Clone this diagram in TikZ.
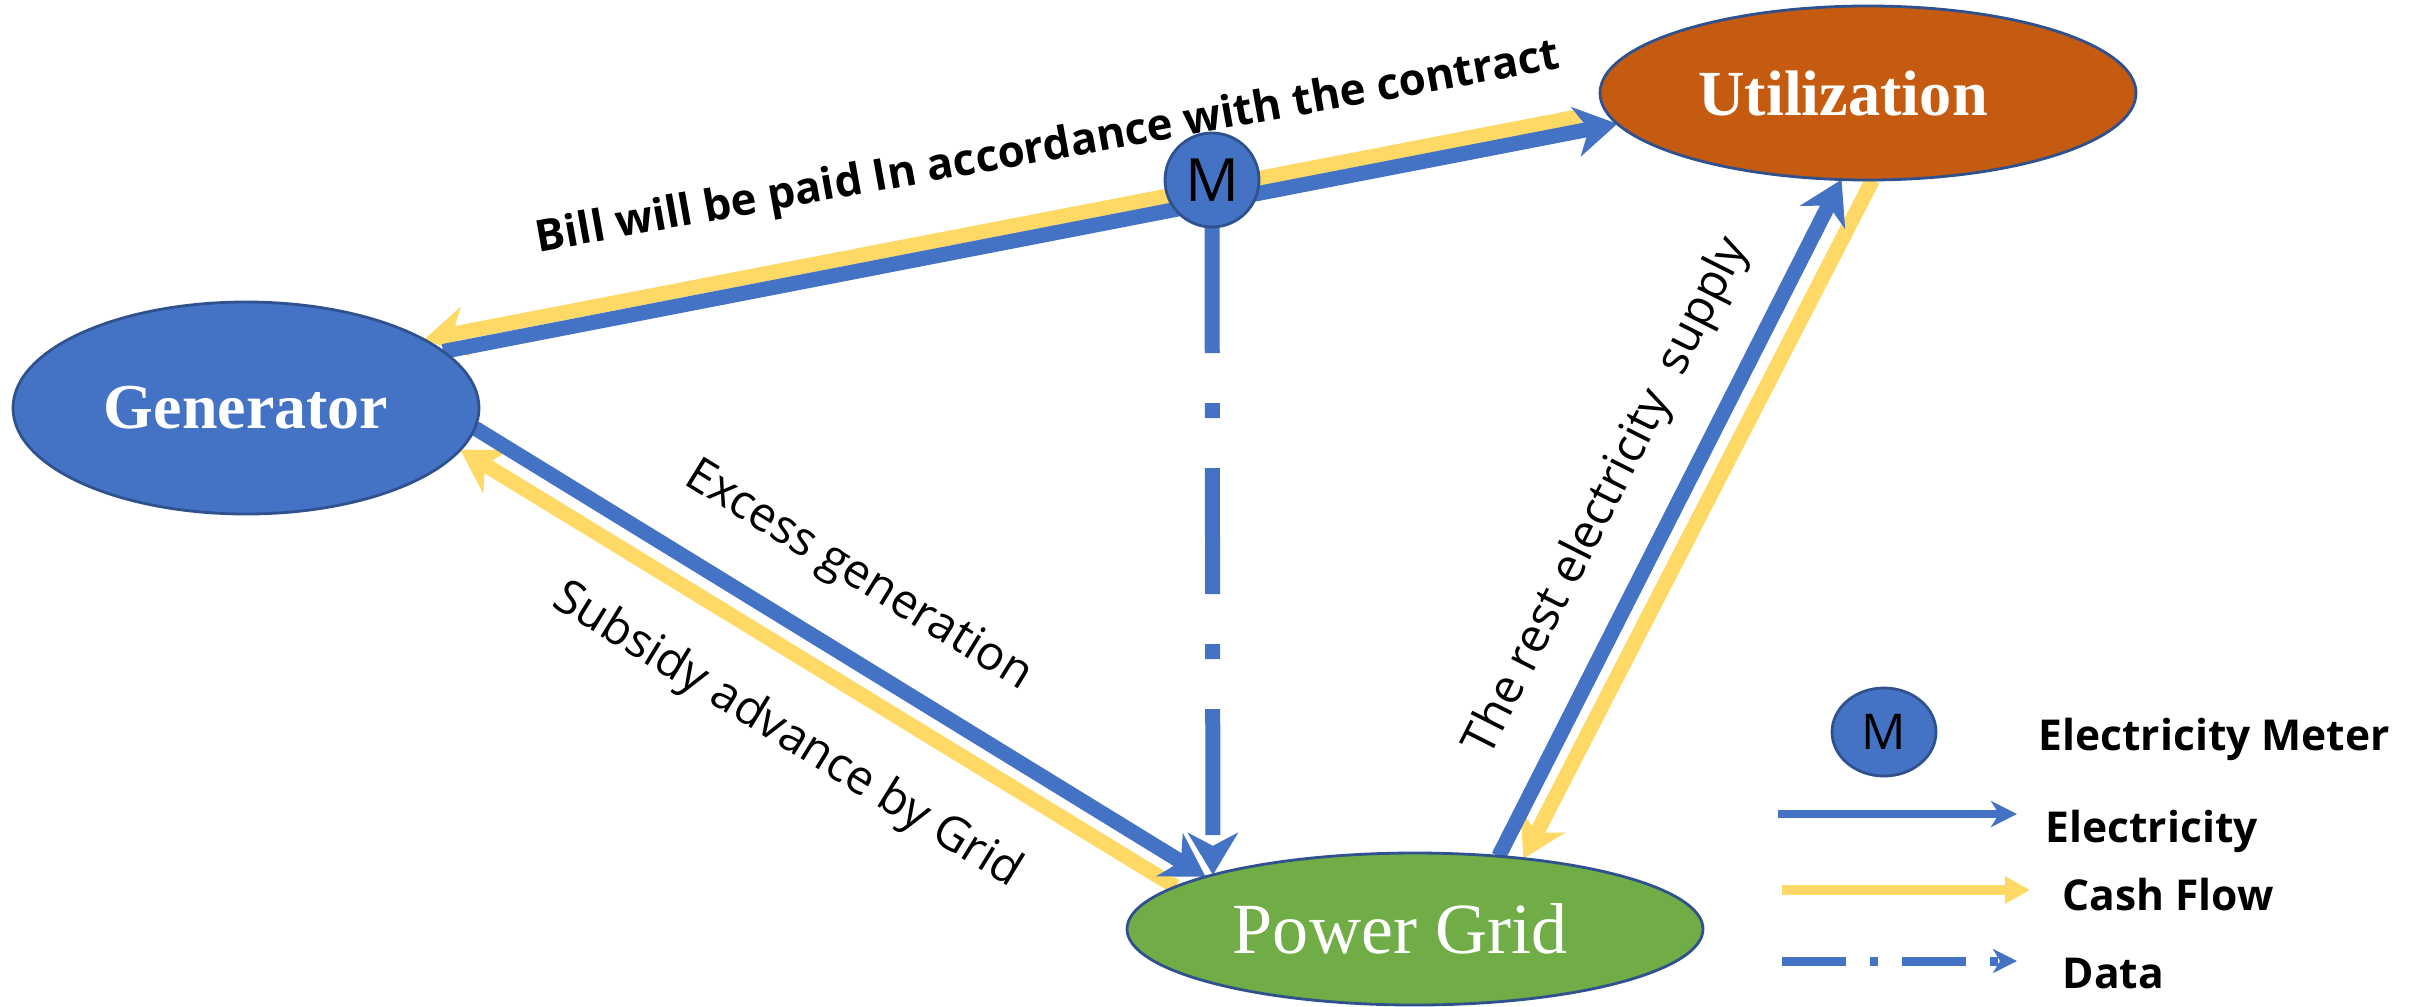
\documentclass[tikz,border=0pt]{standalone}
\usepackage{fontspec}
\setmainfont{Liberation Serif}
\newfontfamily\flowfont{Open Sans}
\usetikzlibrary{shapes.geometric,arrows.meta,positioning}

\definecolor{elecblue}{HTML}{4472C4}
\definecolor{rimblue}{HTML}{2F528F}
\definecolor{cashgold}{HTML}{FFD966}
\definecolor{useorange}{HTML}{C55A11}
\definecolor{gridgreen}{HTML}{70AD47}

\pgfdeclarelayer{flows}
\pgfsetlayers{flows,main}

\tikzset{
  party/.style={ellipse, draw=rimblue, line width=0.8pt, inner sep=0pt, outer sep=0pt,
    text=white},
  meterdot/.style={ellipse, fill=elecblue, draw=rimblue, line width=0.8pt,
    inner sep=0pt, outer sep=0pt},
  bighead/.style={-{Stealth[length=0.42cm,width=0.5cm,inset=0.13cm]}},
  power/.style={draw=elecblue, line width=0.15cm, bighead},
  cash/.style={draw=cashgold, line width=0.15cm, bighead},
  data/.style={draw=elecblue, line width=0.15cm, bighead,
    dash pattern=on 1.26cm off 0.5cm on 0.15cm off 0.5cm},
  flowtext/.style={font=\flowfont\fontsize{13.5}{16}\selectfont, inner sep=0pt},
  keytext/.style={font=\flowfont\bfseries\fontsize{12.1}{15}\selectfont, inner sep=0pt, anchor=base west},
}

\begin{document}
\begin{tikzpicture}
\useasboundingbox (0,0) rectangle (24.2,10.06);

% the three parties and the meter
\node[party, fill=elecblue, minimum width=4.66cm, minimum height=2.12cm, font=\bfseries\fontsize{18.2}{22}\selectfont]
  (gen) at (2.46,5.98) {Generator};
\node[party, fill=useorange, minimum width=5.36cm, minimum height=1.74cm, font=\bfseries\fontsize{18.3}{22}\selectfont]
  (util) at (18.68,9.13) {Utilization\hspace*{0.5cm}};
\node[party, fill=gridgreen, minimum width=5.76cm, minimum height=1.52cm, font=\fontsize{20.5}{24}\selectfont]
  (grid) at (14.15,0.77) {Power Grid\hspace*{0.3cm}};
\node[meterdot, minimum size=0.94cm, font=\flowfont\fontsize{17}{20}\selectfont] (meter) at (12.12,8.26) {M};

% flows, kept under the ellipses
\begin{pgfonlayer}{flows}
  % cash first, electricity on top of it
  \draw[cash, shorten <=0.26cm] (util.184) -- (gen.21);
  \draw[cash] (grid.170) -- (gen.-11);
  \draw[cash] (util.273) -- (grid.33);

  \draw[power] (gen.16) -- (util.187);
  \draw[power] (gen.-5) -- (grid.166);
  \draw[power] (grid.41) -- (util.253);

  % meter readings go to the grid
  \draw[data] (meter) -- (grid.165);
\end{pgfonlayer}

% flow labels
\node[flowtext, font=\flowfont\bfseries\fontsize{12.5}{16}\selectfont, rotate=10.2] (billtxt) at (10.48,8.57)
  {Bill will be paid In accordance with the contract};
\node[flowtext, rotate=-31.6] (excesstxt) at (8.58,4.29) {Excess generation};
\node[flowtext, rotate=-31.6] (subsidytxt) at (7.87,2.70) {Subsidy advance by Grid};
\node[flowtext, rotate=63.2] (resttxt) at (16.08,5.09) {The rest electricity\ \ supply};

% legend
\node[meterdot, minimum width=1.04cm, minimum height=0.88cm, font=\flowfont\fontsize{14}{16}\selectfont]
  (keymeter) at (18.84,2.74) {M};
\node[keytext] (keymetertxt) at (20.38,2.56) {Electricity Meter};

\coordinate (elecA) at (17.78,1.92);
\coordinate (elecB) at (20.17,1.92);
\draw[draw=elecblue, line width=0.08cm, -{Stealth[length=0.26cm,width=0.26cm,inset=0.08cm]}] (elecA) -- (elecB);
\node[keytext] (electxt) at (20.45,1.64) {Electricity};

\coordinate (cashA) at (17.82,1.16);
\coordinate (cashB) at (20.30,1.16);
\draw[draw=cashgold, line width=0.1cm, -{Triangle[length=0.25cm,width=0.26cm]}] (cashA) -- (cashB);
\node[keytext] (cashtxt) at (20.62,0.96) {Cash Flow};

\coordinate (dataA) at (17.82,0.45);
\coordinate (dataB) at (20.17,0.45);
\draw[draw=elecblue, line width=0.09cm, dash pattern=on 0.64cm off 0.24cm on 0.08cm off 0.24cm,
  -{Stealth[length=0.24cm,width=0.24cm,inset=0.07cm]}] (dataA) -- (dataB);
\node[keytext] (datatxt) at (20.62,0.18) {Data};
\end{tikzpicture}
\end{document}
